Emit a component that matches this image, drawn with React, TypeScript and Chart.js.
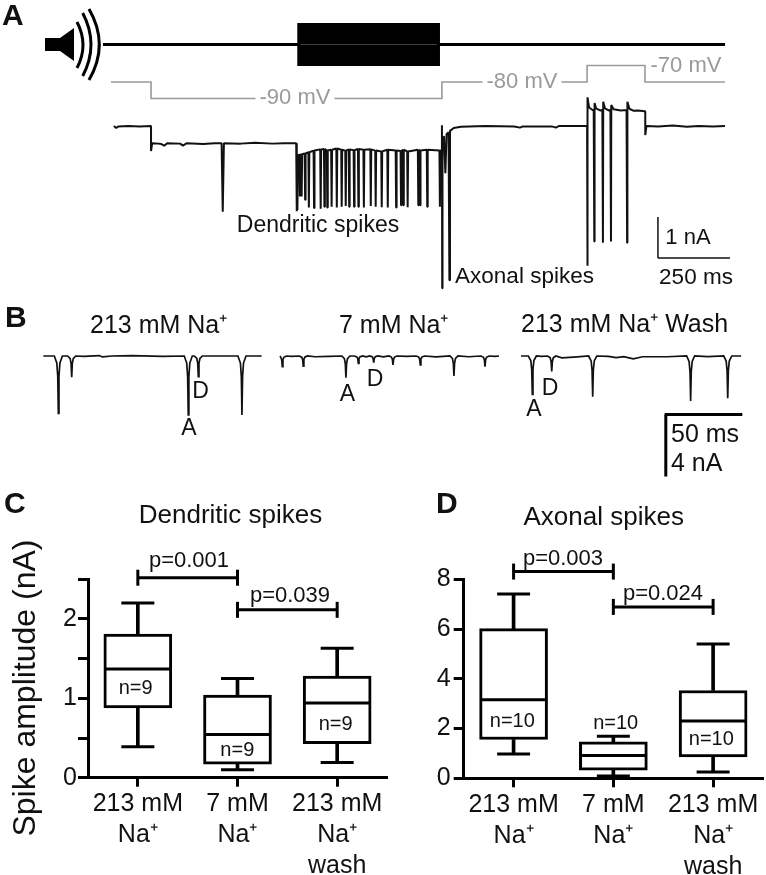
import React, { useEffect, useRef } from "react";
import { Chart, registerables } from "chart.js";

Chart.register(...registerables);

const FONT = '"Liberation Sans", Arial, sans-serif';
const GREY = "#9a9a9a";
const INK = "#111111";

// ---------- Panel A: sound envelope, command voltage, recorded current ----------
const soundTop: number[][] = [[-28, 0], [652, 0], [652, 1], [1137, 1], [1137, 0], [2132, 0]];
const soundBottom: number[][] = [[652, 0], [652, -1], [1137, -1], [1137, 0]];
const commandVoltage: number[][] = [
  [0, -80], [139, -80], [139, -90], [1149, -90], [1149, -80], [1653, -80],
  [1653, -70], [1854, -70], [1854, -80], [2132, -80],
];
const currentBeforeStim: number[][] = [
  [10, 0], [18, -0.05], [25, -0.01], [60, 0], [100, -0.01], [138, 0], [139, 0], [139, -0.61], [143, -0.42],
  [165, -0.43], [175, -0.44], [185, -0.48], [195, -0.42], [240, -0.43], [250, -0.48], [262, -0.42], [320, -0.44],
  [360, -0.42], [384, -0.42], [388, -2.09], [392, -0.42], [450, -0.43], [500, -0.41], [560, -0.43], [600, -0.42],
  [643, -0.42], [645, -2.08], [646, -0.72],
];
const stimSpikeTimes = [648, 656, 662, 674, 687, 705, 728, 741, 751, 766, 784, 801, 815, 827, 844, 859, 878, 902, 919, 940, 961, 990, 1007, 1015, 1030, 1067, 1073, 1098, 1142];
const stimSpikeTips = [-2.05, -1.72, -1.72, -1.8, -1.99, -2.0, -2.02, -1.97, -1.99, -1.97, -1.99, -1.97, -1.95, -1.97, -1.97, -1.97, -1.99, -1.95, -1.97, -1.98, -1.99, -1.99, -1.93, -1.93, -1.98, -1.93, -1.93, -1.97, -1.97];
const stimBaseline = [-0.71, -0.7, -0.69, -0.67, -0.64, -0.6, -0.57, -0.56, -0.6, -0.58, -0.55, -0.58, -0.6, -0.57, -0.59, -0.56, -0.58, -0.57, -0.6, -0.62, -0.58, -0.6, -0.61, -0.58, -0.62, -0.58, -0.6, -0.58, -0.6];
const currentAfterStim: number[][] = [
  [1147, -0.6], [1149, 0.02], [1150, -3.96], [1151, -0.3], [1156, -0.25], [1161, -1.15], [1165, -0.2], [1172, -0.15],
  [1175, -3.76], [1177, -0.12], [1190, -0.05], [1215, -0.02], [1300, 0], [1400, -0.01], [1420, -0.04], [1430, -0.01],
  [1530, -0.01], [1545, -0.04], [1555, 0], [1652, 0], [1653, 0], [1654, -3.41], [1655, 0.7], [1660, 0.45], [1672, 0.39],
  [1676, 0.39], [1678, -2.82], [1679, 0.56], [1684, 0.43], [1698, 0.38], [1706, 0.39], [1708, -2.85], [1709, 0.59],
  [1715, 0.43], [1728, 0.38], [1734, 0.39], [1736, -2.82], [1737, 0.51], [1745, 0.41], [1770, 0.38], [1790, 0.39],
  [1792, -2.85], [1793, 0.59], [1800, 0.42], [1815, 0.37], [1830, 0.38], [1853, 0.36], [1855, 0.36], [1855, -0.22],
  [1859, 0], [1900, -0.01], [1950, 0.01], [2000, -0.02], [2040, 0], [2090, -0.01], [2132, 0],
];
const calA_time: number[][] = [[1899, -3.22], [2149, -3.22]];
const calA_current: number[][] = [[1899, -2.22], [1899, -3.22]];

// ---------- Panel B: three sweeps (ms, nA), spike = [time, depth] ----------
const sweep213Span = [27.9, 168.6];
const sweep213Spikes: number[][] = [[37.6, 3.7], [46.2, 1.37], [121.3, 3.8], [127.8, 1.34], [155.9, 3.8]];
const sweep213Wobble: number[][] = [[54, 0.02], [64, -0.03], [66, 0.06], [72, 0], [85, -0.03], [105, 0.02], [146, 0]];
const sweep7Span = [180.4, 321.5];
const sweep7Spikes: number[][] = [[181.9, 0.69], [195.4, 0.65], [222.9, 1.4], [230.9, 0.47], [240.8, 0.43], [253.2, 0.58], [270.8, 0.58], [292.5, 1.29], [312.5, 0.69]];
const sweep7Wobble: number[][] = [[188, 0.02], [203, 0.05], [212, 0.02], [236, 0.05], [247, 0.06], [262, 0.03], [281, 0.06], [302, 0.05], [319, 0.03]];
const sweepWashSpan = [335.7, 477.5];
const sweepWashSpikes: number[][] = [[343, 2.47], [355.5, 1.0], [381.9, 2.63], [445, 2.9], [468.9, 2.73]];
const sweepWashWobble: number[][] = [[349, 0.02], [362, 0.12], [372, 0.06], [392, 0.02], [397, 0.1], [402, 0.04], [408, 0.18], [414, 0.05], [430, 0.05], [456, 0.04]];
const calB_time: number[][] = [[428.3, -3.77], [478.3, -3.77]];
const calB_current: number[][] = [[429, -3.77], [429, -7.77]];

// ---------- Panels C, D: box plots ----------
const conditions = [["213 mM", "Na⁺"], ["7 mM", "Na⁺"], ["213 mM", "Na⁺", "wash"]];
const dendriticHigh = [2.2, 1.25, 1.63];
const dendriticQ3 = [1.81, 1.04, 1.28];
const dendriticMedian = [1.37, 0.545, 0.94];
const dendriticQ1 = [0.88, 0.17, 0.43];
const dendriticLow = [0.39, 0.1, 0.19];
const axonalHigh = [7.41, 1.69, 5.4];
const axonalQ3 = [6.02, 1.47, 3.53];
const axonalMedian = [3.16, 0.92, 2.3];
const axonalQ1 = [1.56, 0.33, 0.86];
const axonalLow = [0.98, 0.09, 0.25];

type Label = { t: string; x: number; y: number; size: number; bold?: boolean; color?: string; align?: CanvasTextAlign; rotate?: number; clear?: boolean };

const labelsA: Label[] = [
  { t: "A", x: 2, y: 15, size: 30, bold: true, align: "left" },
  { t: "-90 mV", x: 295, y: 96, size: 22, color: GREY, clear: true },
  { t: "-80 mV", x: 522, y: 80, size: 22, color: GREY, clear: true },
  { t: "-70 mV", x: 686, y: 64, size: 22, color: GREY, clear: true },
  { t: "Dendritic spikes", x: 318, y: 224, size: 23 },
  { t: "Axonal spikes", x: 524.5, y: 275, size: 22.5 },
  { t: "1 nA", x: 688, y: 236, size: 22 },
  { t: "250 ms", x: 696, y: 276, size: 22.5 },
];
const labelsB: Label[] = [
  { t: "B", x: 5, y: 317, size: 30, bold: true, align: "left" },
  { t: "213 mM Na⁺", x: 90, y: 325, size: 25, align: "left" },
  { t: "7 mM Na⁺", x: 339, y: 325, size: 25, align: "left" },
  { t: "213 mM Na⁺ Wash", x: 521, y: 324, size: 25, align: "left" },
  { t: "D", x: 200.5, y: 390, size: 23 },
  { t: "A", x: 189, y: 427, size: 23 },
  { t: "D", x: 375, y: 378, size: 23 },
  { t: "A", x: 347.5, y: 393, size: 23 },
  { t: "D", x: 550, y: 387, size: 23 },
  { t: "A", x: 534, y: 408, size: 23 },
  { t: "50 ms", x: 671, y: 434, size: 25, align: "left" },
  { t: "4 nA", x: 671, y: 463, size: 25, align: "left" },
];
const labelsC: Label[] = [
  { t: "C", x: 4, y: 503, size: 30, bold: true, align: "left" },
  { t: "Dendritic spikes", x: 230.5, y: 514, size: 26 },
  { t: "Spike amplitude (nA)", x: 26, y: 688, size: 32, rotate: -Math.PI / 2 },
  { t: "p=0.001", x: 189, y: 559, size: 22 },
  { t: "p=0.039", x: 290, y: 594, size: 22 },
  { t: "n=9", x: 135.7, y: 687, size: 20 },
  { t: "n=9", x: 237.3, y: 749, size: 20 },
  { t: "n=9", x: 335.7, y: 723, size: 20 },
];
const labelsD: Label[] = [
  { t: "D", x: 436, y: 503, size: 30, bold: true, align: "left" },
  { t: "Axonal spikes", x: 603.7, y: 516, size: 26 },
  { t: "p=0.003", x: 563, y: 557, size: 22 },
  { t: "p=0.024", x: 663, y: 592, size: 22 },
  { t: "n=10", x: 512.3, y: 720, size: 20 },
  { t: "n=10", x: 615.7, y: 722, size: 20 },
  { t: "n=10", x: 711.3, y: 738, size: 20 },
];

const dipOffsets = [-2.6, -1, -0.4, 0, 0.4, 1, 2.6];
const dipShares = [0, 0.12, 0.35, 1, 0.35, 0.12, 0];

function sweepPoints(span: number[], spikes: number[][], wobble: number[][]) {
  const pts: { x: number; y: number }[] = [{ x: span[0], y: 0 }, { x: span[1], y: 0 }];
  for (const [t, d] of wobble) pts.push({ x: t, y: -d });
  for (const [t, d] of spikes) dipOffsets.forEach((o, i) => pts.push({ x: t + o, y: -d * dipShares[i] }));
  return pts.sort((a, b) => a.x - b.x).filter((p) => p.x >= span[0]);
}
const toXY = (rows: number[][]) => rows.map(([x, y]) => ({ x, y }));

function currentTrace() {
  const stim: number[][] = [];
  stimSpikeTimes.forEach((t, i) => {
    stim.push([t - 1.6, stimBaseline[i]], [t, stimSpikeTips[i]], [t + 1.6, stimBaseline[i]]);
  });
  return toXY([...currentBeforeStim, ...stim, ...currentAfterStim]);
}

function labelPlugin(id: string, items: Label[], left: number, top: number, extra?: (ctx: CanvasRenderingContext2D) => void) {
  return {
    id,
    afterDatasetsDraw(chart: any) {
      const ctx: CanvasRenderingContext2D = chart.ctx;
      ctx.save();
      ctx.translate(-left, -top);
      if (extra) extra(ctx);
      ctx.textBaseline = "middle";
      for (const l of items) {
        ctx.save();
        ctx.font = `${l.bold ? "bold " : ""}${l.size}px ${FONT}`;
        ctx.textAlign = l.align ?? "center";
        ctx.translate(l.x, l.y);
        if (l.rotate) ctx.rotate(l.rotate);
        if (l.clear) {
          const w = ctx.measureText(l.t).width + 8;
          ctx.fillStyle = "#ffffff";
          ctx.fillRect(-w / 2, -l.size / 2, w, l.size);
        }
        ctx.fillStyle = l.color ?? INK;
        ctx.fillText(l.t, 0, l.rotate ? 0 : 1.5);
        ctx.restore();
      }
      ctx.restore();
    },
  };
}

function drawSpeaker(ctx: CanvasRenderingContext2D) {
  ctx.save();
  ctx.fillStyle = "#000";
  ctx.beginPath();
  ctx.moveTo(45, 38);
  ctx.lineTo(60, 38);
  ctx.lineTo(74, 28);
  ctx.lineTo(74, 61);
  ctx.lineTo(60, 51);
  ctx.lineTo(45, 51);
  ctx.closePath();
  ctx.fill();
  ctx.strokeStyle = "#000";
  ctx.lineWidth = 3;
  for (const [x0, y0, cx, y1] of [[77, 22, 89, 68], [82.7, 13, 99.3, 76], [89, 9, 109.6, 80]]) {
    ctx.beginPath();
    ctx.moveTo(x0, y0);
    ctx.quadraticCurveTo(cx, (y0 + y1) / 2, x0, y1);
    ctx.stroke();
  }
  ctx.restore();
}

const hidden = (min: number, max: number, extra: object = {}) => ({ type: "linear", display: false, min, max, ...extra });
const base = {
  animation: false,
  responsive: false,
  events: [],
  plugins: { legend: { display: false }, tooltip: { enabled: false } },
};
const line = (data: any[], color: string, width: number, extra: object = {}) => ({
  data, borderColor: color, borderWidth: width, pointRadius: 0, showLine: true, tension: 0, fill: false, clip: false, ...extra,
});

function boxChart(canvas: HTMLCanvasElement, o: {
  high: number[]; q3: number[]; median: number[]; q1: number[]; low: number[];
  bracket1: (number | null)[]; bracket2: (number | null)[];
  yMax: number; step: number; major: number; axisW: number; bottomH: number; right: number; tickPad: number;
  plugin: any;
}) {
  const marks = (data: (number | null)[], radius: number) => ({
    type: "line", data, showLine: false, pointStyle: "line", pointRadius: radius, pointBorderWidth: 3,
    pointBorderColor: "#000", clip: false,
  });
  const bracket = (data: (number | null)[]) => ({
    type: "line", data, borderColor: "#000", borderWidth: 3, pointStyle: "line", pointRotation: 90, pointRadius: 8,
    pointBorderWidth: 3, pointBorderColor: "#000", clip: false, spanGaps: false,
  });
  return new Chart(canvas, {
    type: "bar",
    data: {
      labels: conditions,
      datasets: [
        marks(o.median, 33),
        marks(o.high, 16.5),
        marks(o.low, 16.5),
        bracket(o.bracket1),
        bracket(o.bracket2),
        { data: o.q1.map((v, i) => [v, o.q3[i]]), backgroundColor: "#fff", borderColor: "#000", borderWidth: 3, borderSkipped: false, barThickness: 68, grouped: false },
        { data: o.q3.map((v, i) => [v, o.high[i]]), backgroundColor: "#000", barThickness: 3, grouped: false },
        { data: o.low.map((v, i) => [v, o.q1[i]]), backgroundColor: "#000", barThickness: 3, grouped: false },
      ],
    },
    options: {
      ...base,
      layout: { autoPadding: false, padding: { top: 89.3, right: o.right, left: 0, bottom: 0 } },
      scales: {
        x: {
          type: "category",
          offset: true,
          afterFit: (s: any) => { s.height = o.bottomH; s.paddingLeft = 0; s.paddingRight = 0; },
          border: { color: "#000", width: 3 },
          grid: { drawOnChartArea: false, drawTicks: true, tickLength: 9, tickWidth: 3, tickColor: "#000", offset: false },
          ticks: { color: INK, autoSkip: false, maxRotation: 0, padding: 2, font: { family: FONT, size: 25, lineHeight: 1.24 } },
        },
        y: {
          min: 0,
          max: o.yMax,
          afterFit: (s: any) => { s.width = o.axisW; },
          border: { color: "#000", width: 3 },
          grid: { drawOnChartArea: false, drawTicks: true, tickLength: 10, tickWidth: 3, tickColor: "#000" },
          ticks: {
            stepSize: o.step,
            color: INK,
            padding: o.tickPad,
            font: { family: FONT, size: 25 },
            callback: (v: any) => (Number(v) % o.major === 0 ? String(v) : ""),
          },
        },
      },
    } as any,
    plugins: [o.plugin],
  } as any);
}

export default function App() {
  const a = useRef<HTMLCanvasElement>(null);
  const b = useRef<HTMLCanvasElement>(null);
  const c = useRef<HTMLCanvasElement>(null);
  const d = useRef<HTMLCanvasElement>(null);

  useEffect(() => {
    const charts: Chart[] = [];
    charts.push(new Chart(a.current!, {
      type: "scatter",
      data: {
        datasets: [
          line(toXY(soundTop), "#000", 3, { yAxisID: "ySound", fill: "origin", backgroundColor: "#000" }),
          line(toXY(soundBottom), "#000", 3, { yAxisID: "ySound", fill: "origin", backgroundColor: "#000" }),
          line(toXY(commandVoltage), GREY, 1.6, { yAxisID: "yVolt" }),
          line(currentTrace(), INK, 2, { yAxisID: "yAmp", borderJoinStyle: "bevel" }),
          line(toXY(calA_time), INK, 1.5, { yAxisID: "yAmp" }),
          line(toXY(calA_current), INK, 1.5, { yAxisID: "yAmp" }),
        ],
      },
      options: {
        ...base,
        layout: { autoPadding: false },
        scales: {
          x: hidden(-385.4, 2274.2),
          yAmp: hidden(-4.122, 3.073),
          yVolt: hidden(-209.1, -30.3),
          ySound: hidden(-12.5, 2.225),
        },
      },
      plugins: [labelPlugin("labelsA", labelsA, 0, 0, drawSpeaker)],
    } as any));

    charts.push(new Chart(b.current!, {
      type: "scatter",
      data: {
        datasets: [
          line(sweepPoints(sweep213Span, sweep213Spikes, sweep213Wobble), INK, 1.7),
          line(sweepPoints(sweep7Span, sweep7Spikes, sweep7Wobble), INK, 1.7),
          line(sweepPoints(sweepWashSpan, sweepWashSpikes, sweepWashWobble), INK, 1.7),
          line(toXY(calB_time), "#000", 3),
          line(toXY(calB_current), "#000", 3),
        ],
      },
      options: { ...base, layout: { autoPadding: false }, scales: { x: hidden(0, 493.56), y: hidden(-8.323, 3.935) } },
      plugins: [labelPlugin("labelsB", labelsB, 0, 295)],
    } as any));

    charts.push(boxChart(c.current!, {
      high: dendriticHigh, q3: dendriticQ3, median: dendriticMedian, q1: dendriticQ1, low: dendriticLow,
      bracket1: [2.52, 2.52, null], bracket2: [null, 2.115, 2.115],
      yMax: 2.5, step: 0.5, major: 1, axisW: 88, bottomH: 97.3, right: 13, tickPad: 1,
      plugin: labelPlugin("labelsC", labelsC, 0, 490),
    }));
    charts.push(boxChart(d.current!, {
      high: axonalHigh, q3: axonalQ3, median: axonalMedian, q1: axonalQ1, low: axonalLow,
      bracket1: [8.31, 8.31, null], bracket2: [null, 6.89, 6.89],
      yMax: 8, step: 2, major: 2, axisW: 80.7, bottomH: 96.7, right: 3, tickPad: 3,
      plugin: labelPlugin("labelsD", labelsD, 383, 490),
    }));
    return () => charts.forEach((ch) => ch.destroy());
  }, []);

  const place = (left: number, top: number): React.CSSProperties => ({ position: "absolute", left, top, display: "block" });
  return (
    <div style={{ position: "absolute", left: 0, top: 0, width: 766, height: 875, overflow: "hidden", background: "#fff" }}>
      <canvas ref={a} width={766} height={295} style={place(0, 0)} />
      <canvas ref={b} width={766} height={190} style={place(0, 295)} />
      <canvas ref={c} width={400} height={385} style={place(0, 490)} />
      <canvas ref={d} width={383} height={385} style={place(383, 490)} />
    </div>
  );
}
